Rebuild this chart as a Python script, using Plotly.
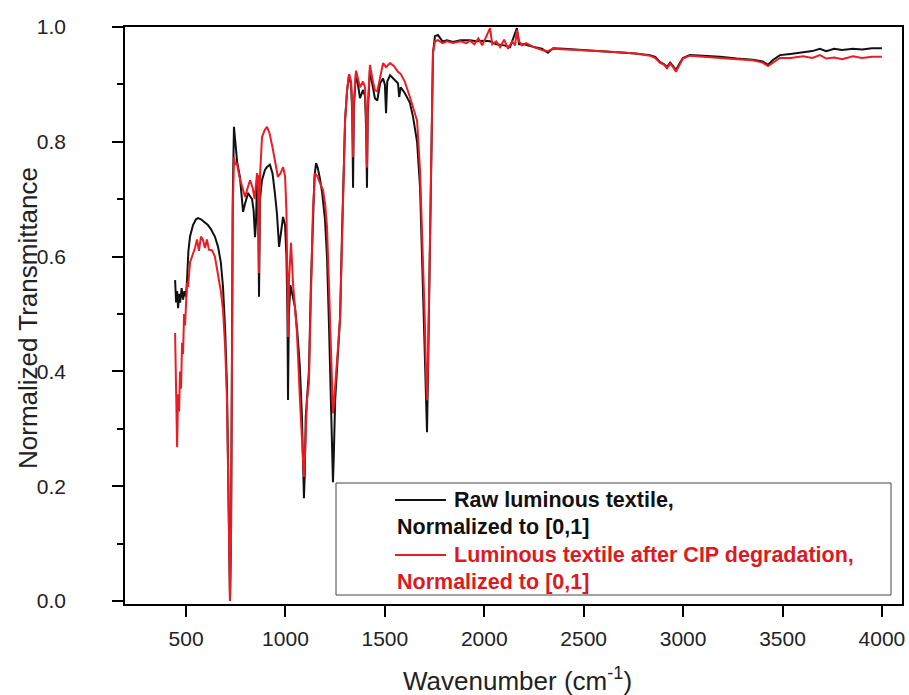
import plotly.graph_objects as go

# ---------------- data ----------------
raw_x = [445, 450, 455, 460, 465, 470, 478, 485, 492, 500, 505, 512, 520, 535, 550, 560, 575, 590, 610, 625,
         645, 661, 675, 686, 697, 706, 712, 716, 721, 726, 731, 735, 741, 748, 757, 771, 780, 787, 795, 805,
         812, 822, 832, 840, 847, 852, 857, 862, 867, 872, 882, 897, 907, 922, 935, 947, 957, 968, 978, 988,
         998, 1005, 1010, 1013, 1017, 1025, 1033, 1048, 1060, 1072, 1083, 1090, 1093, 1097, 1102, 1108, 1118,
         1128, 1138, 1146, 1154, 1162, 1174, 1185, 1199, 1209, 1219, 1229, 1236, 1239, 1243, 1250, 1262, 1275,
         1284, 1300, 1310, 1320, 1330, 1336, 1340, 1344, 1355, 1365, 1375, 1390, 1400, 1406, 1410, 1414, 1425,
         1437, 1450, 1462, 1476, 1491, 1500, 1506, 1512, 1526, 1545, 1566, 1572, 1580, 1600, 1626, 1642, 1662,
         1677, 1692, 1700, 1707, 1712, 1717, 1727, 1742, 1752, 1767, 1790, 1812, 1843, 1880, 1928, 1960, 2000,
         2029, 2060, 2100, 2130, 2164, 2175, 2200, 2250, 2290, 2320, 2346, 2400, 2450, 2516, 2600, 2682, 2760,
         2833, 2860, 2883, 2905, 2919, 2935, 2950, 2964, 2980, 2999, 3034, 3100, 3185, 3270, 3351, 3400, 3427,
         3450, 3487, 3540, 3603, 3650, 3688, 3720, 3760, 3800, 3854, 3900, 3950, 4000]
raw_y = [0.559, 0.52, 0.54, 0.51, 0.535, 0.52, 0.545, 0.525, 0.54, 0.53, 0.56, 0.61, 0.635, 0.655, 0.665, 0.667,
         0.665, 0.66, 0.655, 0.648, 0.635, 0.617, 0.59, 0.547, 0.47, 0.37, 0.25, 0.12, 0.0, 0.1, 0.4, 0.7, 0.826,
         0.8, 0.765, 0.739, 0.71, 0.678, 0.69, 0.705, 0.711, 0.705, 0.70, 0.68, 0.634, 0.66, 0.733, 0.72, 0.53,
         0.7, 0.733, 0.751, 0.756, 0.76, 0.745, 0.71, 0.676, 0.617, 0.64, 0.669, 0.655, 0.6, 0.5, 0.35, 0.5,
         0.55, 0.537, 0.512, 0.467, 0.41, 0.321, 0.22, 0.179, 0.22, 0.32, 0.35, 0.4, 0.55, 0.68, 0.74, 0.763,
         0.755, 0.735, 0.71, 0.664, 0.6, 0.48, 0.32, 0.22, 0.207, 0.25, 0.35, 0.42, 0.495, 0.634, 0.838, 0.89,
         0.916, 0.9, 0.85, 0.72, 0.86, 0.922, 0.9, 0.876, 0.89, 0.88, 0.82, 0.72, 0.85, 0.926, 0.9, 0.876, 0.872,
         0.902, 0.91, 0.9, 0.85, 0.905, 0.916, 0.91, 0.902, 0.878, 0.895, 0.885, 0.868, 0.843, 0.8, 0.721, 0.547,
         0.45, 0.373, 0.294, 0.4, 0.606, 0.955, 0.984, 0.986, 0.975, 0.977, 0.974, 0.977, 0.977, 0.975, 0.976,
         0.975, 0.97, 0.968, 0.965, 0.998, 0.97, 0.97, 0.965, 0.962, 0.955, 0.963, 0.962, 0.961, 0.96, 0.958,
         0.956, 0.954, 0.951, 0.948, 0.939, 0.935, 0.93, 0.938, 0.932, 0.925, 0.935, 0.946, 0.951, 0.95, 0.948,
         0.945, 0.943, 0.94, 0.934, 0.942, 0.951, 0.953, 0.956, 0.958, 0.962, 0.958, 0.962, 0.96, 0.962, 0.961,
         0.963, 0.963]

cip_x = [445, 448, 452, 455, 460, 465, 470, 475, 480, 485, 490, 495, 505, 510, 520, 535, 545, 555, 565, 575,
         585, 595, 605, 615, 631, 645, 661, 675, 686, 697, 706, 712, 716, 721, 726, 731, 735, 741, 748, 756,
         768, 782, 797, 810, 822, 835, 845, 857, 862, 867, 872, 882, 895, 907, 920, 935, 947, 962, 975, 988,
         998, 1005, 1010, 1013, 1018, 1028, 1038, 1058, 1073, 1085, 1093, 1099, 1108, 1118, 1128, 1138, 1149,
         1160, 1174, 1189, 1200, 1209, 1219, 1229, 1236, 1239, 1243, 1250, 1262, 1275, 1284, 1300, 1310, 1320,
         1330, 1336, 1340, 1344, 1355, 1365, 1375, 1390, 1400, 1406, 1410, 1414, 1425, 1437, 1450, 1462, 1476,
         1491, 1506, 1526, 1545, 1566, 1580, 1600, 1626, 1642, 1662, 1677, 1692, 1700, 1707, 1712, 1717, 1727,
         1742, 1752, 1767, 1790, 1812, 1843, 1880, 1910, 1928, 1950, 1970, 1990, 2010, 2029, 2040, 2060, 2080,
         2100, 2120, 2140, 2155, 2164, 2175, 2190, 2210, 2250, 2290, 2320, 2346, 2400, 2450, 2516, 2600, 2682,
         2760, 2833, 2860, 2883, 2905, 2919, 2935, 2950, 2964, 2980, 2999, 3034, 3100, 3185, 3270, 3351, 3400,
         3427, 3450, 3487, 3540, 3603, 3650, 3688, 3720, 3760, 3800, 3854, 3900, 3950, 4000]
cip_y = [0.467, 0.38, 0.30, 0.268, 0.36, 0.33, 0.40, 0.37, 0.45, 0.43, 0.50, 0.48, 0.554, 0.547, 0.59, 0.606,
         0.615, 0.63, 0.61, 0.635, 0.629, 0.615, 0.63, 0.612, 0.611, 0.6, 0.571, 0.54, 0.507, 0.44, 0.35, 0.24,
         0.12, 0.0, 0.1, 0.4, 0.68, 0.773, 0.76, 0.763, 0.74, 0.722, 0.704, 0.72, 0.733, 0.72, 0.7, 0.745, 0.74,
         0.571, 0.74, 0.808, 0.82, 0.826, 0.815, 0.79, 0.768, 0.739, 0.745, 0.756, 0.74, 0.68, 0.55, 0.46, 0.56,
         0.624, 0.554, 0.467, 0.35, 0.26, 0.216, 0.26, 0.35, 0.38, 0.55, 0.68, 0.745, 0.74, 0.728, 0.716, 0.69,
         0.652, 0.55, 0.42, 0.34, 0.327, 0.34, 0.38, 0.43, 0.495, 0.634, 0.838, 0.89, 0.918, 0.905, 0.86, 0.773,
         0.87, 0.924, 0.91, 0.895, 0.905, 0.895, 0.84, 0.755, 0.86, 0.934, 0.91, 0.89, 0.888, 0.915, 0.937, 0.93,
         0.937, 0.932, 0.922, 0.918, 0.905, 0.878, 0.86, 0.837, 0.75, 0.6, 0.5, 0.4, 0.35, 0.42, 0.606, 0.955,
         0.975, 0.977, 0.972, 0.975, 0.972, 0.975, 0.972, 0.976, 0.97, 0.98, 0.968, 0.985, 0.998, 0.97, 0.975,
         0.965, 0.978, 0.962, 0.975, 0.968, 0.995, 0.975, 0.968, 0.972, 0.965, 0.96, 0.958, 0.962, 0.961, 0.96,
         0.96, 0.958, 0.956, 0.954, 0.95, 0.946, 0.938, 0.934, 0.928, 0.936, 0.93, 0.922, 0.933, 0.945, 0.95,
         0.948, 0.946, 0.944, 0.942, 0.938, 0.932, 0.938, 0.946, 0.946, 0.949, 0.946, 0.951, 0.945, 0.947, 0.944,
         0.949, 0.946, 0.948, 0.948]

x_ticks = [500, 1000, 1500, 2000, 2500, 3000, 3500, 4000]
y_ticks = [0.0, 0.2, 0.4, 0.6, 0.8, 1.0]
y_tick_labels = ["0.0", "0.2", "0.4", "0.6", "0.8", "1.0"]

raw_name = "Raw luminous textile,"
cip_name = "Luminous textile after CIP degradation,"
norm_text = "Normalized to [0,1]"
x_title = "Wavenumber (cm<sup>-1</sup>)"
y_title = "Normalized Transmittance"

# ---------------- styling ----------------
BLACK = "#111111"
RED_LINE = "#ec1c24"
RED_TEXT = "#dd1a22"
FONT = "Liberation Sans, Arial, sans-serif"

W, H = 909, 695
L, R, T, B = 125, 7, 27, 91
PW, PH = W - L - R, H - T - B


def px(xp):
    return (xp - L) / PW


def py(yp):
    return (H - B - yp) / PH


fig = go.Figure()
fig.add_trace(go.Scatter(x=raw_x, y=raw_y, mode="lines", name=raw_name,
                         line=dict(color=BLACK, width=2), showlegend=False))
fig.add_trace(go.Scatter(x=cip_x, y=cip_y, mode="lines", name=cip_name,
                         line=dict(color=RED_LINE, width=2), showlegend=False))

axis_common = dict(showline=True, linecolor="black", linewidth=1.5, mirror=True,
                   showgrid=False, zeroline=False, ticks="outside", ticklen=11,
                   tickwidth=1.5, tickcolor="black",
                   tickfont=dict(family=FONT, size=21, color="#222222"))

fig.update_layout(
    width=W, height=H,
    margin=dict(l=L, r=R, t=T, b=B, autoexpand=False),
    paper_bgcolor="white", plot_bgcolor="white",
    xaxis=dict(range=[193, 4101], tickvals=x_ticks, ticklabelstandoff=4, **axis_common),
    yaxis=dict(range=[-0.0052, 1.0], tickvals=y_ticks, ticktext=y_tick_labels,
               ticklabelstandoff=42,
               minor=dict(ticks="outside", ticklen=6, tickwidth=1.5, tickcolor="black",
                          dtick=0.1, tick0=0, showgrid=False),
               **axis_common),
)

# axis titles
fig.add_annotation(x=px(517), y=py(698), xref="paper", yref="paper", text=x_title,
                   showarrow=False, font=dict(family=FONT, size=26, color="#222222"),
                   xanchor="center", yanchor="bottom")
fig.add_annotation(x=px(28), y=py(318), xref="paper", yref="paper", text=y_title,
                   showarrow=False, textangle=-90,
                   font=dict(family=FONT, size=26, color="#222222"),
                   xanchor="center", yanchor="middle")

# legend box
fig.add_shape(type="rect", xref="paper", yref="paper",
              x0=px(336), x1=px(891), y0=py(595), y1=py(483),
              line=dict(color="#444444", width=1), fillcolor="white", layer="above")
fig.add_shape(type="line", xref="paper", yref="paper",
              x0=px(395), x1=px(446), y0=py(500), y1=py(500),
              line=dict(color=BLACK, width=2), layer="above")
fig.add_shape(type="line", xref="paper", yref="paper",
              x0=px(395), x1=px(446), y0=py(555), y1=py(555),
              line=dict(color=RED_LINE, width=2), layer="above")

legend_rows = [
    (452, 500, raw_name, BLACK),
    (395, 527, norm_text, BLACK),
    (452, 555, cip_name, RED_TEXT),
    (395, 582, norm_text, RED_TEXT),
]
for xp, yp, txt, col in legend_rows:
    fig.add_annotation(x=px(xp), y=py(yp), xref="paper", yref="paper",
                       text="<b>" + txt + "</b>", showarrow=False,
                       xanchor="left", yanchor="middle",
                       font=dict(family=FONT, size=21.5, color=col))

fig.write_html("out.html")
